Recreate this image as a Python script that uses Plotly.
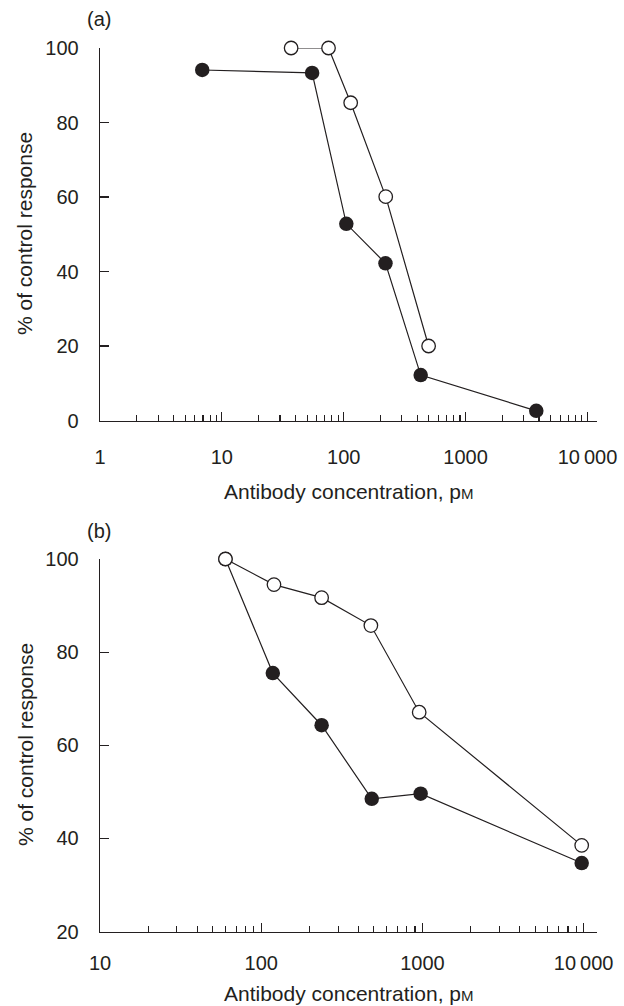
import plotly.graph_objects as go

# ---- data ----
a_filled_x = [6.9, 55, 105, 220, 428, 3800]
a_filled_y = [94.1, 93.3, 52.8, 42.2, 12.2, 2.6]
a_open_x = [37, 75, 114, 221, 497]
a_open_y = [100, 100, 85.3, 60.1, 20]

b_filled_x = [60, 118, 237, 485, 975, 9730]
b_filled_y = [100, 75.5, 64.3, 48.5, 49.6, 34.7]
b_open_x = [60, 120, 237, 479, 955, 9730]
b_open_y = [100, 94.5, 91.7, 85.7, 67.1, 38.5]

a_xticks = [1, 10, 100, 1000, 10000]
a_xlabels = ["1", "10", "100", "1000", "10\u2009000"]
b_xticks = [10, 100, 1000, 10000]
b_xlabels = ["10", "100", "1000", "10\u2009000"]
a_yticks = [0, 20, 40, 60, 80, 100]
b_yticks = [20, 40, 60, 80, 100]

x_title = "Antibody concentration, p<span style='font-size:15px'>M</span>"
y_title = "% of control response"

INK = "#231f20"
FONT = "Liberation Sans, Arial, Helvetica, sans-serif"
W, H = 624, 1006
TICK_SIZE = 20
TITLE_SIZE = 21

fig = go.Figure()

def add_series(x, y, filled, xa, ya):
    if filled:
        marker = dict(symbol="circle", size=14.5, color=INK, line=dict(width=0))
    else:
        marker = dict(symbol="circle", size=13.5, color="white", line=dict(width=1.3, color=INK))
    fig.add_trace(go.Scatter(x=x, y=y, mode="lines+markers", marker=marker,
                             line=dict(color=INK, width=1.2), xaxis=xa, yaxis=ya,
                             cliponaxis=False, showlegend=False, hoverinfo="skip"))

add_series(a_filled_x, a_filled_y, True, "x", "y")
add_series(a_open_x, a_open_y, False, "x", "y")
add_series(b_filled_x, b_filled_y, True, "x2", "y2")
add_series(b_open_x, b_open_y, False, "x2", "y2")

xdom = [100 / W, 597 / W]
a_ydom = [1 - 420.5 / H, 1 - 48 / H]
b_ydom = [1 - 931.5 / H, 1 - 559 / H]

def xaxis(rng, tv, tt, anchor, dom, standoff):
    return dict(type="log", range=rng, domain=dom, anchor=anchor, automargin=False,
                showline=True, linecolor=INK, linewidth=1.3,
                ticks="inside", ticklen=9, tickwidth=1.2, tickcolor=INK,
                tickvals=tv, ticktext=tt, ticklabelstandoff=standoff,
                minor=dict(ticks="inside", ticklen=6, tickwidth=1.1, tickcolor=INK,
                           dtick="D1", showgrid=False),
                showgrid=False, zeroline=False,
                tickfont=dict(family=FONT, size=TICK_SIZE, color=INK))

def yaxis(rng, tv, anchor, dom):
    return dict(range=rng, domain=dom, anchor=anchor, automargin=False,
                showline=True, linecolor=INK, linewidth=1.3,
                ticks="inside", ticklen=9, tickwidth=1.2, tickcolor=INK,
                tickvals=tv, ticklabelstandoff=16,
                showgrid=False, zeroline=False,
                tickfont=dict(family=FONT, size=TICK_SIZE, color=INK))

fig.update_layout(
    width=W, height=H, margin=dict(l=0, r=0, t=0, b=0, autoexpand=False),
    paper_bgcolor="white", plot_bgcolor="white",
    font=dict(family=FONT, size=TICK_SIZE, color=INK),
    xaxis=xaxis([0, 4.078], a_xticks, a_xlabels, "y", xdom, 18),
    yaxis=yaxis([0, 100], a_yticks, "x", a_ydom),
    xaxis2=xaxis([1, 4.083], b_xticks, b_xlabels, "y2", xdom, 13),
    yaxis2=yaxis([20, 100], b_yticks, "x2", b_ydom),
)

def ann(text, x, y, angle=0, size=TITLE_SIZE):
    fig.add_annotation(text=text, x=x / W, y=1 - y / H, xref="paper", yref="paper",
                       showarrow=False, textangle=angle, xanchor="center", yanchor="middle",
                       font=dict(family=FONT, size=size, color=INK))

ann("(a)", 99, 19, size=20)
ann("(b)", 99, 531, size=20)
ann(x_title, 349, 491)
ann(x_title, 349, 993)
ann(y_title, 25, 234, angle=-90)
ann(y_title, 25, 745, angle=-90)

fig.write_html(
    "out.html",
    config={"displayModeBar": False, "staticPlot": True},
    post_script="document.body.style.margin='0';document.body.style.overflow='hidden';",
)
